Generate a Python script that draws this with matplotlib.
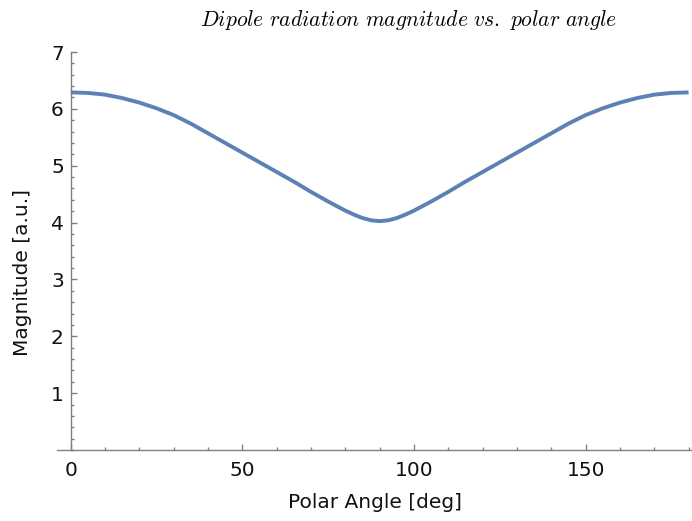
import matplotlib.pyplot as plt
from matplotlib.ticker import MultipleLocator

# Data
angle_deg = [0, 5, 10, 15, 20, 25, 30, 35, 40, 45, 50, 55, 60, 65, 70, 75, 77.5, 80, 82.5,
             85, 87.5, 90, 92.5, 95, 97.5, 100, 102.5, 105, 110, 115, 120, 125, 130, 135,
             140, 145, 150, 155, 160, 165, 170, 175, 180]
magnitude = [6.29, 6.28, 6.25, 6.19, 6.11, 6.01, 5.89, 5.74, 5.57, 5.40, 5.23, 5.06, 4.89,
             4.72, 4.54, 4.37, 4.29, 4.21, 4.14, 4.08, 4.04, 4.025, 4.04, 4.08, 4.14, 4.21,
             4.29, 4.37, 4.54, 4.72, 4.89, 5.06, 5.23, 5.40, 5.57, 5.74, 5.89, 6.01,
             6.11, 6.19, 6.25, 6.28, 6.29]
x_ticks = [0, 50, 100, 150]
y_ticks = [1, 2, 3, 4, 5, 6, 7]

plt.rcParams["mathtext.fontset"] = "cm"
plt.rcParams["font.family"] = "DejaVu Sans"

fig = plt.figure(figsize=(6.92, 5.21), dpi=100)
ax = fig.add_axes([57 / 692, 71 / 521, 635 / 692, 398 / 521])

ax.plot(angle_deg, magnitude, color="#5e81b5", linewidth=2.8,
        solid_capstyle="butt", solid_joinstyle="round")

ax.set_xlim(-4, 181)
ax.set_ylim(0, 7)

# axes styling, Mathematica look
grey = "#808080"
for side in ["top", "right"]:
    ax.spines[side].set_visible(False)
ax.spines["left"].set_position(("data", 0))
for side in ["left", "bottom"]:
    ax.spines[side].set_color(grey)
    ax.spines[side].set_linewidth(1.0)

ax.set_xticks(x_ticks)
ax.set_yticks(y_ticks)
ax.xaxis.set_minor_locator(MultipleLocator(10))
ax.yaxis.set_minor_locator(MultipleLocator(0.2))
ax.tick_params(which="both", direction="in", color=grey, width=1.0, labelsize=14.5,
               labelcolor="#111111")
ax.tick_params(which="major", length=4.5)
ax.tick_params(which="minor", length=2.5)
ax.tick_params(axis="x", pad=8)
ax.tick_params(axis="y", pad=5)

fig.text(375 / 692, 1 - 503 / 521, "Polar Angle [deg]", ha="center", va="center",
         fontsize=14.5, color="#111111")
fig.text(23 / 692, 1 - 272 / 521, "Magnitude [a.u.]", ha="center", va="center",
         rotation=90, fontsize=14.5, color="#111111")
fig.text(409 / 692, 1 - 20 / 521, r"$\it{Dipole\ radiation\ magnitude\ vs.\ polar\ angle}$",
         ha="center", va="center", fontsize=15.5)

fig.savefig("out.png", dpi=100)
